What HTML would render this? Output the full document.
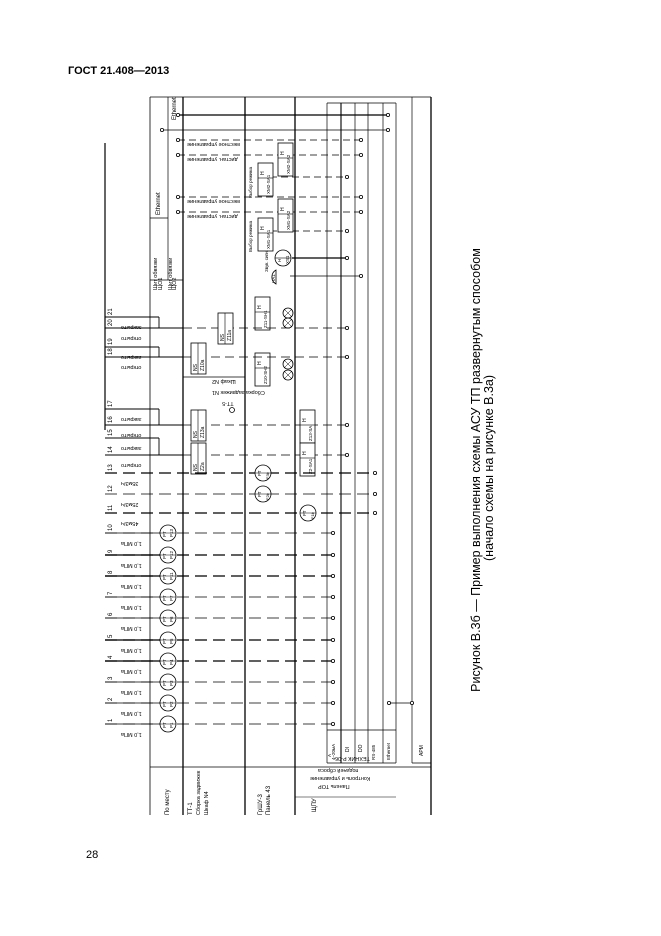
<!DOCTYPE html>
<html><head><meta charset="utf-8"><style>
body{margin:0;background:#fff;width:661px;height:936px;overflow:hidden;font-family:"Liberation Sans",sans-serif}
svg{position:absolute;left:0;top:0}
</style></head><body>
<svg id="s" width="661" height="936" xmlns="http://www.w3.org/2000/svg" font-family="Liberation Sans, sans-serif">
<text x="68" y="74" font-size="11" font-weight="bold">ГОСТ 21.408—2013</text>
<text x="86" y="858" font-size="11">28</text>
<text transform="translate(480,470) rotate(-90)" font-size="12.5" text-anchor="middle">Рисунок В.3б — Пример выполнения схемы АСУ ТП развернутым способом</text>
<text transform="translate(493,468) rotate(-90)" font-size="12.5" text-anchor="middle">(начало схемы на рисунке В.3а)</text>
<g id="g" stroke="#000" fill="none" stroke-width="0.8"></g>
<g id="t" font-size="5" fill="#000"></g>
</svg>
<script>
const g=document.getElementById('g'),t=document.getElementById('t');
function L(x1,y1,x2,y2,w,d){g.insertAdjacentHTML('beforeend',`<line x1="${x1}" y1="${y1}" x2="${x2}" y2="${y2}" stroke-width="${w||0.8}" ${d?'stroke-dasharray="'+d+'"':''}/>`)}
function C(x,y,r,w){g.insertAdjacentHTML('beforeend',`<circle cx="${x}" cy="${y}" r="${r}" fill="#fff" stroke-width="${w||0.8}"/>`)}
function R(x,y,w,h){g.insertAdjacentHTML('beforeend',`<rect x="${x}" y="${y}" width="${w}" height="${h}" fill="#fff"/>`)}
function T(x,y,s,rot,sz,anc){t.insertAdjacentHTML('beforeend',`<text transform="translate(${x},${y}) rotate(${rot})" font-size="${sz||5}" ${anc?'text-anchor="'+anc+'"':''}>${s}</text>`)}
L(150,97,150,815);L(183,97,183,815,1.3);L(245,97,245,815,1.3);L(295,97,295,815,1.3);
[327,355,368,383,396].forEach(x=>L(x,103,x,763,0.7));L(341,103,341,763,1.1);
L(327,103,396,103,0.7);L(412,97,412,763,0.7);L(431,97,431,815,1.3);
L(150,97,431,97,0.7);L(150,767,431,767,0.8);L(327,763,396,763,0.8);L(327,730,396,730,0.7);L(295,797,396,797,0.6);L(412,763,431,763,0.7);
L(105,143,105,430,1.2);
L(168,97,168,280,0.7);L(150,218,168,218);L(150,280,183,280);L(183,377,245,377);
T(160,215,'Ethernet','-90',6);T(176,120,'Ethernet','-90',6);
T(157,290,'Щит обвязки','-90',5.5);T(162,290,'ЩО1','-90',5.5);T(172,290,'Щит обвязки','-90',5.5);T(176,290,'ЩО2','-90',5.5);
L(178,115,388,115,1.3);C(178,115,1.6);C(388,115,1.6);
L(162,130,388,130,0.8);C(162,130,1.6);C(388,130,1.6);
[[140,361,'местное управление'],[155,361,'дистан. управление'],[197,361,'местное управление'],[212,361,'дистан. управление']].forEach(a=>{L(178,a[0],a[1],a[0],0.7,'7,4');C(178,a[0],1.6);C(a[1],a[0],1.6);T(187,a[0]+3,a[2],'180',5.5,'end')});
[[177,347],[231,347]].forEach(a=>{L(270,a[0],a[1],a[0],0.7,'7,4');C(a[1],a[0],1.6)});
L(292,258,347,258,1.3);C(347,258,1.6);L(290,276,361,276,0.7);C(361,276,1.6);
[[278,143,'XM2-SA2'],[258,163,'XM2-SA1'],[278,199,'XM1-SA2'],[258,218,'XM1-SA1'],[255,297,'Z11-SH1'],[255,353,'Z10-SH2']].forEach(b=>{R(b[0],b[1],15,33);L(b[0],b[1]+15,b[0]+15,b[1]+15,0.6);T(b[0]+6,b[1]+12,'H','-90',5);T(b[0]+12,b[1]+31,b[2],'-90',4.5)});
T(252,198,'Выбор режима','-90',4.5);T(252,252,'Выбор режима','-90',4.5);
C(283,258,8);L(275,258,291,258,0.6);T(281,262,'H','-90',4.5);T(289,264,'XS1','-90',4.5);T(268,272,'Звук. сигн.','-90',4.5);
g.insertAdjacentHTML('beforeend','<path d="M276,270 A8,8 0 0 0 276,284 Z" fill="#fff"/>');T(275,283,'HA1','-90',4.5);
[313,323,364,375].forEach(y=>{C(288,y,5);L(284,y-4,292,y+4,0.5);L(284,y+4,292,y-4,0.5)});
const tops=[[317,'21'],[328,'20'],[347,'19'],[357,'18'],[409,'17'],[425,'16'],[438,'15'],[455,'14']];
tops.forEach((r,i)=>{L(105,r[0],i%2?183:159,r[0],0.9);T(112,r[0]-2,r[1],'-90',6);T(121,r[0]+9,i%2?'открыто':'закрыто','180',5.5,'end')});
[[317,328],[347,357],[409,425],[438,455]].forEach(p=>L(159,p[0],159,p[1],0.9));
[[328,347],[357,347],[425,347],[455,347]].forEach(p=>{L(183,p[0],p[1],p[0],0.8,'9,5');C(p[1],p[0],1.6)});
[[218,313,'Z11a'],[191,343,'Z10a'],[191,410,'Z13a'],[191,443,'Z2a']].forEach(b=>{R(b[0],b[1],15,31);L(b[0]+7,b[1],b[0]+7,b[1]+31,0.6);T(b[0]+6,b[1]+28,'NS','-90',5);T(b[0]+13,b[1]+28,b[2],'-90',5)});
[[300,410,'Z13-SA'],[300,443,'Z2-SA1']].forEach(b=>{R(b[0],b[1],15,33);L(b[0],b[1]+15,b[0]+15,b[1]+15,0.6);T(b[0]+6,b[1]+12,'H','-90',5);T(b[0]+12,b[1]+31,b[2],'-90',4.5)});
T(212,380,'Шкаф N2','180',5.5,'end');T(212,391,'Сборка задвижек N1','180',5.5,'end');T(222,402,'ТТ-5','180',5.5,'end');C(232,410,2.5);
[[473,'13','35м3/ч',263],[494,'12','25м3/ч',263],[513,'11','45м3/ч',308]].forEach(r=>{L(105,r[0],375,r[0],r[1]=='12'?0.7:1.2,'12,6');C(375,r[0],1.6);T(112,r[0]-2,r[1],'-90',6);T(121,r[0]+9,r[2],'180',5.5,'end');C(r[3],r[0],8);L(r[3]-8,r[0],r[3]+8,r[0],0.5);T(r[3]-2,r[0]+3,'FT','-90',4.5);T(r[3]+6,r[0]+6,'F'+r[1].replace('1','')+'b','-90',4)});
const ys=[724,703,682,661,640,618,597,576,555,533];
const pn=['P1','P2','P3','P4','P5','P6','P7','P11','P12','P13'];
ys.forEach((y,i)=>{const bold=[3,4,7,8].includes(i);L(105,y,333,y,bold?1.2:0.7,'12,6');L(105,y,160,y,bold?1.2:0.8);C(333,y,1.6);T(112,y-2,String(i+1),'-90',6);T(121,y+9,'1,0 МПа','180',5.5,'end');C(168,y,8);L(160,y,176,y,0.5);T(166,y+4,'PT','-90',4.5);T(173,y+4,pn[i],'-90',4.5)});
L(389,703,412,703,0.8);C(389,703,1.6);C(412,703,1.6);
T(335,760,'4–20мА','-90',4.5);T(331,757,'A','-90',4.5);T(349,752,'DI','-90',5);T(362,752,'DO','-90',5);T(375,760,'RS-485','-90',4.5);T(390,760,'Ethernet','-90',4.5);
T(335,757,'ТЕХНИК Р-06','180',5.5,'end');T(423,756,'АРМ','-90',5);
T(169,815,'По месту','-90',6);T(192,815,'ТТ-1','-90',6);T(200,815,'Сборка задвижек','-90',5.5);T(208,815,'Шкаф N4','-90',5.5);
T(262,815,'ГрШУ-3','-90',6);T(270,815,'Панель 43','-90',6);T(316,812,'ЩПУ','-90',6);
T(318,785,'Панель ТОР','180',5.5,'end');T(310,777,'Контроль и управление','180',5.5,'end');T(318,769,'подачей сброса','180',5.5,'end');
</script>
</body></html>
